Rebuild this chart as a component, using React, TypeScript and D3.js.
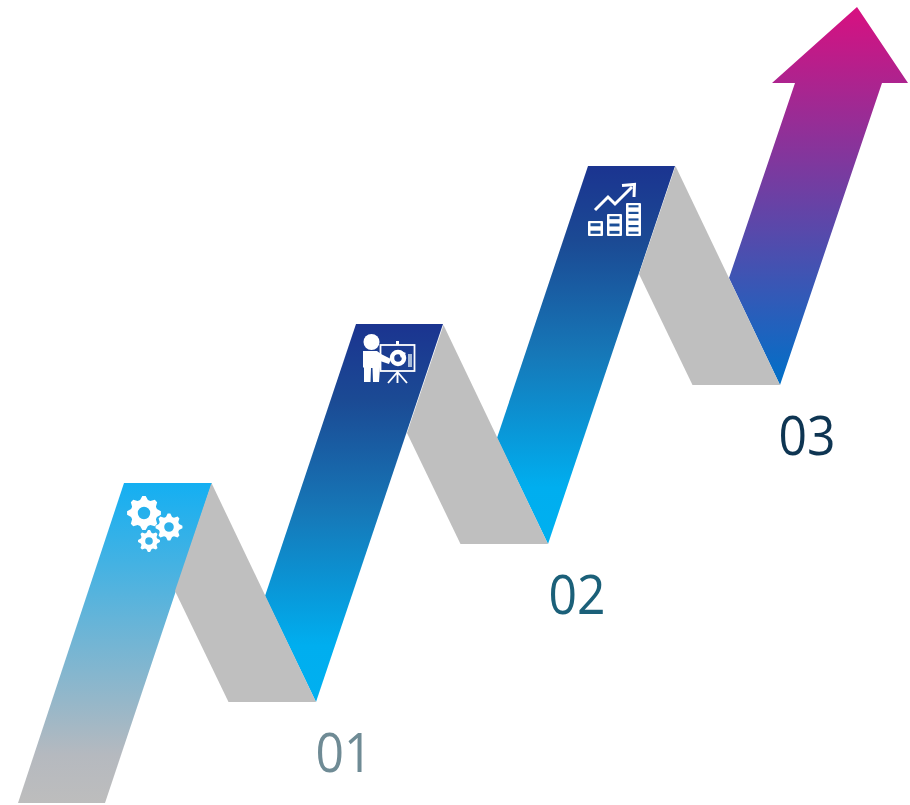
import React from "react";
import * as d3 from "d3";

const steps = [1, 2, 3];
const stepLabels = ["01", "02", "03"];
const labelColors = ["#6f8b95", "#1b6079", "#0e3552"];
const tipXs = [316, 548, 780];
const tipYs = [702, 544, 385];
const arrowTop: [number, number] = [857, 7];

const xs = d3.scaleLinear().domain(steps).range(tipXs);
const ys = d3.scaleLinear().domain(steps).range(tipYs);
const line = d3.line().curve(d3.curveLinearClosed);

function ribbon(s: number) {
  const x = xs(s), y = ys(s);
  return line([[x + 40, y - 378], [x + 127, y - 378], [x, y], [x - 51, y - 106]] as any);
}
function grayFold(s: number) {
  const x = xs(s), y = ys(s);
  return line([[x - 104.5, y - 219], [x, y], [x - 87.5, y], [x - 141, y - 111]] as any);
}

function gearPath(cx: number, cy: number, rOuter: number, rRoot: number, rHole: number, teeth: number) {
  const pts: string[] = [];
  const n = teeth * 4;
  for (let i = 0; i < n; i++) {
    const a = (i / n) * 2 * Math.PI - Math.PI / n;
    const r = i % 4 === 0 || i % 4 === 1 ? rOuter : rRoot;
    pts.push(`${cx + r * Math.cos(a)},${cy + r * Math.sin(a)}`);
  }
  const hole = `M${cx + rHole},${cy}a${rHole},${rHole} 0 1,0 ${-2 * rHole},0a${rHole},${rHole} 0 1,0 ${2 * rHole},0Z`;
  return `M${pts.join("L")}Z${hole}`;
}

const Gears = () => (
  <g fill="#fff" fillRule="evenodd" style={{ filter: "blur(0.5px)" }}>
    <path d={gearPath(144, 513, 17, 13.5, 6.2, 8)} />
    <path d={gearPath(169, 527, 13.5, 10.5, 4.8, 8)} />
    <path d={gearPath(149, 541, 11, 8.5, 3.8, 8)} />
  </g>
);

const Presenter = () => (
  <g style={{ filter: "blur(0.5px)" }}>
    <circle cx="371.5" cy="342" r="8" fill="#fff" />
    <path d="M363,351 L377,351 L381,354 L391,359 L389,364 L380,361 L380,367 L379,382 L373,382 L372.5,368 L371,368 L370.5,382 L364,382 L364,368 L363,367 Z" fill="#fff" />
    <rect x="380.5" y="345" width="34" height="26" fill="none" stroke="#fff" strokeWidth="1.8" />
    <rect x="396" y="341" width="3" height="4" fill="#fff" />
    <circle cx="398" cy="358" r="6" fill="none" stroke="#fff" strokeWidth="4.5" />
    <path d="M398,350 L406,353 L401,358 Z" fill="#fff" />
    <rect x="408" y="354" width="4" height="13" fill="#a9bcd8" />
    <path d="M397.5,371 V383 M397.5,372 L388,383 M397.5,372 L407,383" stroke="#fff" strokeWidth="1.9" fill="none" />
  </g>
);

const growthBars = [
  { x: 588, y: 221, rows: 2 },
  { x: 607, y: 214, rows: 3 },
  { x: 626, y: 203, rows: 5 },
];

const Growth = () => (
  <g style={{ filter: "blur(0.4px)" }}>
    {growthBars.map((b, i) => (
      <g key={i}>
        <rect x={b.x} y={b.y} width="15" height={236 - b.y} rx="1" fill="#fff" />
        {d3.range(0, b.rows).map((r) => {
          const h = (236 - b.y) / b.rows;
          return (
            <rect key={r} x={b.x + 2.5} y={b.y + r * h + 2.2} width="10" height={h - 4.4} fill="#1c4f97" />
          );
        })}
      </g>
    ))}
    <path d="M595,210 L608,197 L615,204 L632,187" fill="none" stroke="#fff" strokeWidth="3" />
    <path d="M622,185.5 L634.5,184.5 L634,197" fill="none" stroke="#fff" strokeWidth="3" />
  </g>
);

export default function App() {
  const firstTipX = xs(1), firstTipY = ys(1);
  const firstStrip = line([
    [firstTipX - 192, firstTipY - 219],
    [firstTipX - 104, firstTipY - 219],
    [firstTipX - 211, 803],
    [firstTipX - 298, 803],
  ] as any);
  const lastTipX = xs(3), lastTipY = ys(3);
  const [ax, ay] = arrowTop;
  const arrow = line([
    [lastTipX - 51, lastTipY - 107],
    [ax - 62, ay + 76],
    [ax - 85, ay + 76],
    [ax, ay],
    [ax + 51, ay + 76],
    [ax + 25, ay + 76],
    [lastTipX, lastTipY],
  ] as any);

  return (
    <svg width={910} height={805} style={{ position: "absolute", left: 0, top: 0 }}>
      <defs>
        <linearGradient id="first" x1="0" x2="0" y1="0" y2="1">
          <stop offset="0" stopColor="#14aff2" />
          <stop offset="0.85" stopColor="#b5b9bf" />
          <stop offset="1" stopColor="#bdbdbd" />
        </linearGradient>
        <linearGradient id="blue" x1="0" x2="0" y1="0" y2="1">
          <stop offset="0" stopColor="#1b3490" />
          <stop offset="0.2" stopColor="#1b4a94" />
          <stop offset="0.5" stopColor="#1678b8" />
          <stop offset="0.85" stopColor="#00aeef" />
          <stop offset="1" stopColor="#00b0f0" />
        </linearGradient>
        <linearGradient id="arrowGrad" x1="0" x2="0" y1="0" y2="1">
          <stop offset="0" stopColor="#d81080" />
          <stop offset="1" stopColor="#0070c8" />
        </linearGradient>
      </defs>
      <path d={firstStrip!} fill="url(#first)" />
      {steps.slice(0, 2).map((s) => (
        <path key={s} d={ribbon(s)!} fill="url(#blue)" />
      ))}
      <path d={arrow!} fill="url(#arrowGrad)" />
      {steps.map((s) => (
        <path key={s} d={grayFold(s)!} fill="#bfbfbf" />
      ))}
      <Gears />
      <Presenter />
      <Growth />
      {steps.map((s, i) => (
        <text
          key={s}
          x={xs(s) + (i === 0 ? 28 : i === 1 ? 29 : 27)}
          y={ys(s) + 70}
          textAnchor="middle"
          fontFamily="'Open Sans', sans-serif"
          fontSize={54}
          textLength={57}
          lengthAdjust="spacingAndGlyphs"
          fill={labelColors[i]}
        >
          {stepLabels[i]}
        </text>
      ))}
    </svg>
  );
}
